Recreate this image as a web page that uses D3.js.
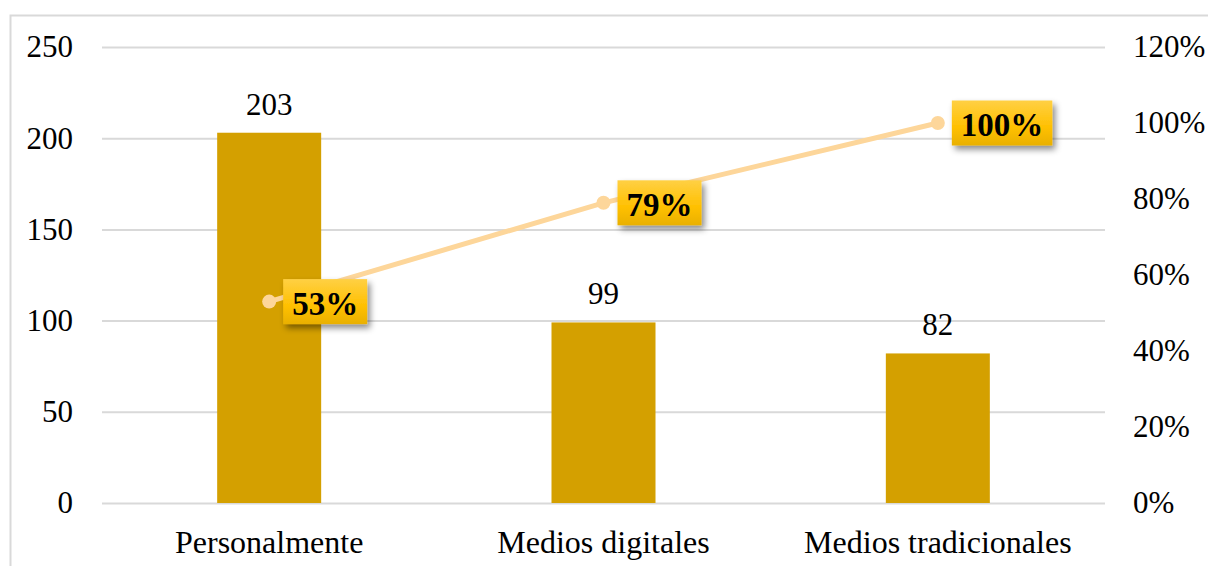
<!DOCTYPE html>
<html>
<head>
<meta charset="utf-8">
<script src="https://cdn.jsdelivr.net/npm/d3@7"></script>
<style>
  html, body { margin: 0; padding: 0; background: #fff; }
  svg { display: block; font-family: "Liberation Serif", "Times New Roman", serif; }
  svg text { font-family: "Liberation Serif", "Times New Roman", serif; }
</style>
</head>
<body>
<svg id="chart" width="1208" height="566"></svg>
<script>
// Categories and values
const categories = ["Personalmente", "Medios digitales", "Medios tradicionales"];
const counts = [203, 99, 82];
const cumulativePct = [53, 79, 100];
const leftTicks = [0, 50, 100, 150, 200, 250];
const rightTicks = [0, 20, 40, 60, 80, 100, 120];

const W = 1208, H = 566;
const plot = { left: 102, right: 1105, top: 47, bottom: 503 };
const fontSize = 31;

const svg = d3.select("#chart");

// Outer frame (top and left edges visible)
svg.append("path")
  .attr("d", `M10.5,${H} V15.5 H${W}`)
  .attr("fill", "none")
  .attr("stroke", "#d9d9d9")
  .attr("stroke-width", 2);

const x = d3.scaleBand().domain(categories).range([plot.left, plot.right]).paddingInner(0).paddingOuter(0);
const yL = d3.scaleLinear().domain([0, 250]).range([plot.bottom, plot.top]);
const yR = d3.scaleLinear().domain([0, 120]).range([plot.bottom, plot.top]);

// Gridlines
svg.append("g").selectAll("line").data(leftTicks).join("line")
  .attr("x1", plot.left).attr("x2", plot.right)
  .attr("y1", d => yL(d) + 0.5).attr("y2", d => yL(d) + 0.5)
  .attr("stroke", "#d9d9d9").attr("stroke-width", 2);

// Left axis
const leftAxis = svg.append("g").attr("transform", `translate(${plot.left},0)`)
  .call(d3.axisLeft(yL).tickValues(leftTicks).tickSize(0).tickPadding(29));
leftAxis.select(".domain").remove();
leftAxis.selectAll("text").attr("font-size", fontSize).attr("fill", "#000");

// Right axis
const rightAxis = svg.append("g").attr("transform", `translate(${plot.right},0)`)
  .call(d3.axisRight(yR).tickValues(rightTicks).tickSize(0).tickPadding(28).tickFormat(d => d + "%"));
rightAxis.select(".domain").remove();
rightAxis.selectAll("text").attr("font-size", fontSize).attr("fill", "#000");

// Category axis
const bottomAxis = svg.append("g").attr("transform", `translate(0,${plot.bottom})`)
  .call(d3.axisBottom(x).tickSize(0).tickPadding(27));
bottomAxis.select(".domain").remove();
bottomAxis.selectAll("text").attr("font-size", 32).attr("fill", "#000");

// Bars
const barW = 104;
svg.append("g").selectAll("rect").data(counts).join("rect")
  .attr("x", (d, i) => x(categories[i]) + x.bandwidth() / 2 - barW / 2)
  .attr("y", d => yL(d))
  .attr("width", barW)
  .attr("height", d => yL(0) - yL(d))
  .attr("fill", "#d4a000");

// Bar value labels
svg.append("g").selectAll("text").data(counts).join("text")
  .attr("x", (d, i) => x(categories[i]) + x.bandwidth() / 2)
  .attr("y", d => yL(d) - 18)
  .attr("text-anchor", "middle")
  .attr("font-size", fontSize)
  .attr("fill", "#000")
  .text(d => d);

// Cumulative line
const cx = i => x(categories[i]) + x.bandwidth() / 2;
const line = d3.line().x((d, i) => cx(i)).y(d => yR(d));
svg.append("path").datum(cumulativePct)
  .attr("d", line)
  .attr("fill", "none")
  .attr("stroke", "#fdd69a")
  .attr("stroke-width", 5);

svg.append("g").selectAll("circle").data(cumulativePct).join("circle")
  .attr("cx", (d, i) => cx(i))
  .attr("cy", d => yR(d))
  .attr("r", 7)
  .attr("fill", "#fdd69a");

// Label box gradient and shadow
const defs = svg.append("defs");
const grad = defs.append("linearGradient").attr("id", "labelFill")
  .attr("x1", 0).attr("y1", 0).attr("x2", 0).attr("y2", 1);
grad.append("stop").attr("offset", "0%").attr("stop-color", "#ffd044");
grad.append("stop").attr("offset", "60%").attr("stop-color", "#ffc000");
grad.append("stop").attr("offset", "100%").attr("stop-color", "#e9b000");

const shadow = defs.append("filter").attr("id", "labelShadow")
  .attr("x", "-20%").attr("y", "-20%").attr("width", "150%").attr("height", "160%");
shadow.append("feDropShadow").attr("dx", 3).attr("dy", 4).attr("stdDeviation", 3)
  .attr("flood-color", "#000").attr("flood-opacity", 0.45);

// Percentage labels
const labelG = svg.append("g").selectAll("g").data(cumulativePct).join("g")
  .attr("transform", (d, i) => `translate(${cx(i) + 14},${yR(d)})`);

labelG.each(function (d) {
  const g = d3.select(this);
  const t = g.append("text")
    .attr("font-size", 33)
    .attr("font-weight", "bold")
    .attr("fill", "#000")
    .attr("dominant-baseline", "central")
    .text(d + "%");
  const tw = t.node().getComputedTextLength();
  const padX = 9, h = 45;
  g.insert("rect", "text")
    .attr("x", 0).attr("y", -h / 2)
    .attr("width", tw + padX * 2).attr("height", h)
    .attr("fill", "url(#labelFill)")
    .attr("filter", "url(#labelShadow)");
  t.attr("x", padX).attr("y", 2);
});
</script>
</body>
</html>
